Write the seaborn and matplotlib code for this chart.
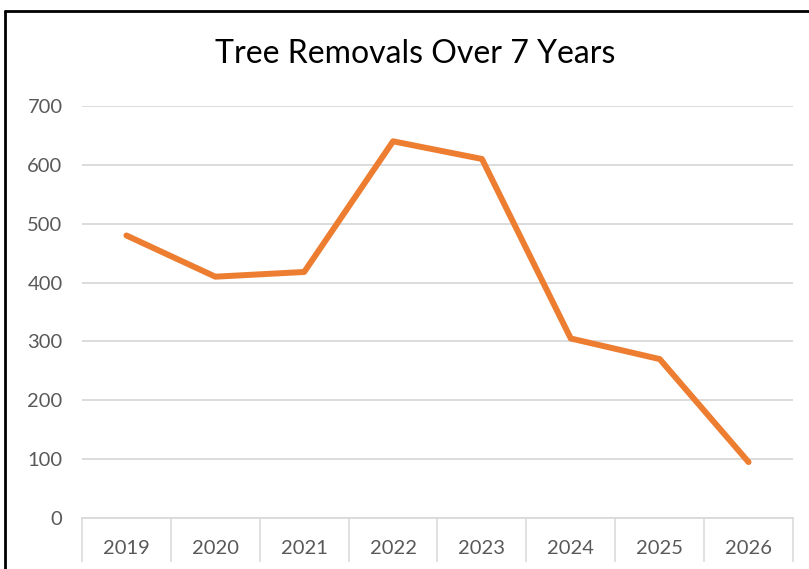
import numpy as np
import pandas as pd
import matplotlib
matplotlib.use("Agg")
import matplotlib.pyplot as plt
from matplotlib.lines import Line2D
from matplotlib.ticker import FixedLocator
import seaborn as sns

# Data
years = ["2019", "2020", "2021", "2022", "2023", "2024", "2025", "2026"]
removals = [480, 410, 418, 640, 610, 305, 270, 95]
y_ticks = [0, 100, 200, 300, 400, 500, 600, 700]

LINE_COLOR = "#ED7D31"
GRID_COLOR = "#D9D9D9"
TEXT_COLOR = "#595959"

sns.set_style("white")
plt.rcParams['font.family'] = ['Lato', 'DejaVu Sans']

df = pd.DataFrame({"year": years, "removals": removals})

W, H = 809, 569
fig = plt.figure(figsize=(W / 100, H / 100), dpi=100)
ax = fig.add_axes([82 / W, (H - 518) / H, 711 / W, 412 / H])

sns.lineplot(data=df, x="year", y="removals", ax=ax, color=LINE_COLOR,
             linewidth=4.3, solid_capstyle="round", solid_joinstyle="round")

n = len(years)
ax.set_xlim(-0.5, n - 0.5)
ax.set_ylim(0, 700)

# y axis
ax.set_yticks(y_ticks)
ax.set_yticklabels([str(v) for v in y_ticks])
ax.tick_params(axis="y", length=0, pad=14, labelsize=14.5, labelcolor=TEXT_COLOR)
ax.yaxis.grid(True, color=GRID_COLOR, linewidth=1.3)
ax.set_axisbelow(True)

# x axis: boundary ticks as majors, labels on minors
ax.xaxis.set_major_locator(FixedLocator(np.arange(n + 1) - 0.5))
ax.xaxis.set_minor_locator(FixedLocator(np.arange(n)))
ax.set_xticklabels([], minor=False)
ax.set_xticklabels(years, minor=True)
ax.tick_params(axis="x", which="major", bottom=True, length=32, width=1.1,
               color=GRID_COLOR, direction="out")
ax.tick_params(axis="x", which="minor", bottom=True, length=0, pad=16,
               labelsize=14.5, labelcolor=TEXT_COLOR)

for s in ["top", "right", "left"]:
    ax.spines[s].set_visible(False)
ax.spines["bottom"].set_color(GRID_COLOR)
ax.spines["bottom"].set_linewidth(1.3)

ax.set_xlabel("")
ax.set_ylabel("")

fig.text(415 / W, 1 - 54 / H, "Tree Removals Over 7 Years", ha="center",
         va="center", fontsize=23, color="black")

# chart border (cropped on the right and bottom)
fig.add_artist(Line2D([5 / W, 1.0], [1 - 10.5 / H, 1 - 10.5 / H],
                      transform=fig.transFigure, color="black", linewidth=2))
fig.add_artist(Line2D([5 / W, 5 / W], [0.0, 1 - 10.5 / H],
                      transform=fig.transFigure, color="black", linewidth=2))

fig.savefig("out.png", dpi=100)
